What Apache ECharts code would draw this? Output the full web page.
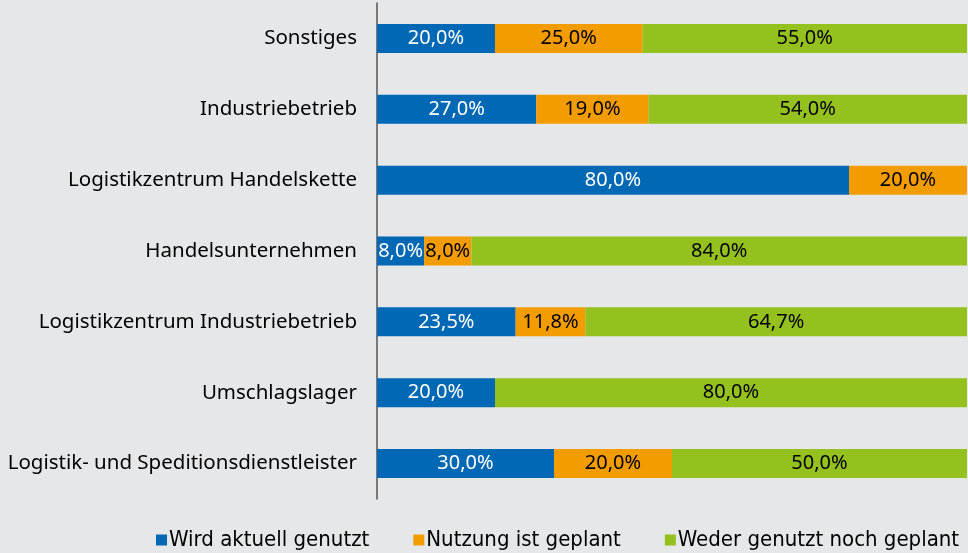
<!DOCTYPE html>
<html>
<head>
<meta charset="utf-8">
<script src="https://cdn.jsdelivr.net/npm/echarts@6/dist/echarts.min.js"></script>
<style>
  html, body { margin: 0; padding: 0; background: #e6e7e8; }
  #chart { width: 968px; height: 553px; }
</style>
</head>
<body>
<div id="chart"></div>
<script>
const categories = [
  'Sonstiges',
  'Industriebetrieb',
  'Logistikzentrum Handelskette',
  'Handelsunternehmen',
  'Logistikzentrum Industriebetrieb',
  'Umschlagslager',
  'Logistik- und Speditionsdienstleister'
]
const seriesNames = ['Wird aktuell genutzt', 'Nutzung ist geplant', 'Weder genutzt noch geplant']
const genutzt = [20.0, 27.0, 80.0, 8.0, 23.5, 20.0, 30.0]
const geplant = [25.0, 19.0, 20.0, 8.0, 11.8, 0, 20.0]
const weder = [55.0, 54.0, 0, 84.0, 64.7, 80.0, 50.0]

const colors = ['#0068b4', '#f39c00', '#95c11f']
const labelColors = ['#ffffff', '#000000', '#000000']
const font = '"Noto Sans", sans-serif'

const chart = echarts.init(document.getElementById('chart'))

// one stacked series per answer
const series = [genutzt, geplant, weder].map((vals, i) => ({
  name: seriesNames[i],
  type: 'bar',
  stack: 'total',
  barWidth: 29,
  data: vals,
  itemStyle: { color: colors[i] },
  label: {
    show: true,
    position: 'inside',
    color: labelColors[i],
    fontFamily: font,
    fontSize: 20,
    formatter: p => p.value > 0 ? p.value.toFixed(1).replace('.', ',') + '%' : ''
  }
}))

chart.setOption({
  backgroundColor: '#e6e7e8',
  animation: false,
  grid: { left: 377, right: 1, top: 3, height: 496 },
  legend: {
    top: 529,
    left: 156,
    padding: 0,
    itemWidth: 11,
    itemHeight: 11,
    itemGap: 44,
    icon: 'rect',
    textStyle: { fontFamily: '"DejaVu Sans Condensed", sans-serif', fontSize: 22, color: '#000', padding: [0, 0, 0, -3] },
    data: seriesNames
  },
  xAxis: { type: 'value', min: 0, max: 100, show: false },
  yAxis: {
    type: 'category',
    inverse: true,
    data: categories,
    axisLine: { lineStyle: { color: '#555', width: 1.5 } },
    axisTick: { show: false },
    axisLabel: { fontFamily: font, fontSize: 20.5, color: '#000', margin: 20 }
  },
  series
})

window.addEventListener('resize', () => chart.resize())
</script>
</body>
</html>
